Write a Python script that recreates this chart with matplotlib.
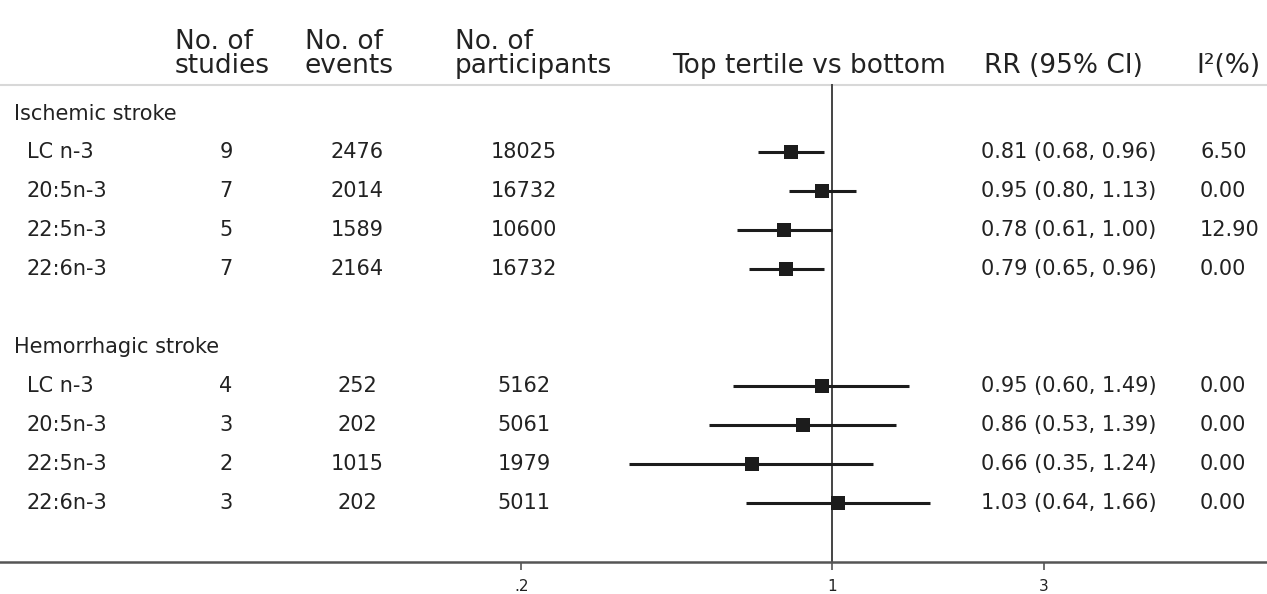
import numpy as np
import matplotlib
matplotlib.use('Agg')
import matplotlib.pyplot as plt
from matplotlib.transforms import blended_transform_factory

# data
exposures = ['LC n-3', '20:5n-3', '22:5n-3', '22:6n-3']

isch_studies = [9, 7, 5, 7]
isch_events = [2476, 2014, 1589, 2164]
isch_participants = [18025, 16732, 10600, 16732]
isch_rr = [0.81, 0.95, 0.78, 0.79]
isch_lo = [0.68, 0.80, 0.61, 0.65]
isch_hi = [0.96, 1.13, 1.00, 0.96]
isch_i2 = [6.50, 0.00, 12.90, 0.00]

hem_studies = [4, 3, 2, 3]
hem_events = [252, 202, 1015, 202]
hem_participants = [5162, 5061, 1979, 5011]
hem_rr = [0.95, 0.86, 0.66, 1.03]
hem_lo = [0.60, 0.53, 0.35, 0.64]
hem_hi = [1.49, 1.39, 1.24, 1.66]
hem_i2 = [0.00, 0.00, 0.00, 0.00]

groups = ['Ischemic stroke', 'Hemorrhagic stroke']
tick_vals = [0.2, 1, 3]
tick_labels = ['.2', '1', '3']

W, H = 1267, 594
TXT = '#222222'
plt.rcParams['font.family'] = ['DejaVu Sans']

fig = plt.figure(figsize=(W / 100, H / 100), dpi=100)
ax = fig.add_axes([0, 0, 1, 1])
ax.set_xscale('log')
ax.set_xlim(0.01343, 9.525)
ax.set_ylim(12.352, -2.918)


def px(x):
    return x / W


tr = blended_transform_factory(ax.transAxes, ax.transData)

# header
hdr = dict(fontsize=19, color=TXT, transform=tr, va='baseline', ha='left')
y1, y2 = -1.66, -1.04
for x, (a, b) in zip([175, 305, 455], [('No. of', 'studies'), ('No. of', 'events'),
                                        ('No. of', 'participants')]):
    ax.text(px(x), y1, a, **hdr)
    ax.text(px(x), y2, b, **hdr)
ax.text(px(672), y2, 'Top tertile vs bottom', **hdr)
ax.text(px(984), y2, 'RR (95% CI)', **hdr)
ax.text(px(1196), y2, 'I²(%)', **hdr)
ax.plot([0, 1], [-0.733, -0.733], color='#d8d8d8', lw=1.5, transform=tr)

# rows
body = dict(fontsize=15, color=TXT, transform=tr, va='center')
sections = [
    (groups[0], 0, isch_studies, isch_events, isch_participants, isch_rr, isch_lo, isch_hi, isch_i2),
    (groups[1], 6, hem_studies, hem_events, hem_participants, hem_rr, hem_lo, hem_hi, hem_i2),
]
for name, y0, st, ev, pa, rr, lo, hi, i2 in sections:
    ax.text(px(14), y0, name, **body)
    ys = np.arange(len(exposures)) + y0 + 1
    for k, y in enumerate(ys):
        ax.text(px(27), y, exposures[k], ha='left', **body)
        ax.text(px(226), y, str(st[k]), ha='center', **body)
        ax.text(px(357), y, str(ev[k]), ha='center', **body)
        ax.text(px(524), y, str(pa[k]), ha='center', **body)
        ax.text(px(981), y, f'{rr[k]:.2f} ({lo[k]:.2f}, {hi[k]:.2f})', ha='left', **body)
        ax.text(px(1200), y, f'{i2[k]:.2f}', ha='left', **body)
    ax.hlines(ys, lo, hi, color='#1c1c1c', lw=2.2, zorder=3)
    ax.plot(rr, ys, 's', color='#1c1c1c', ms=10, mew=0, zorder=4)

# null line
axis_y = 11.53
ax.plot([1, 1], [-0.733, axis_y], color='#444444', lw=1.4, zorder=2)

# x axis
for s in ['top', 'left', 'right']:
    ax.spines[s].set_visible(False)
ax.spines['bottom'].set_position(('data', axis_y))
ax.spines['bottom'].set_color('#555555')
ax.spines['bottom'].set_linewidth(1.8)
ax.set_yticks([])
ax.xaxis.set_minor_locator(matplotlib.ticker.NullLocator())
ax.set_xticks(tick_vals)
ax.set_xticklabels(tick_labels)
ax.tick_params(axis='x', direction='out', length=6, width=1.2, color='#555555',
               labelsize=11, labelcolor=TXT, pad=6)

fig.savefig('out.png', dpi=100)
